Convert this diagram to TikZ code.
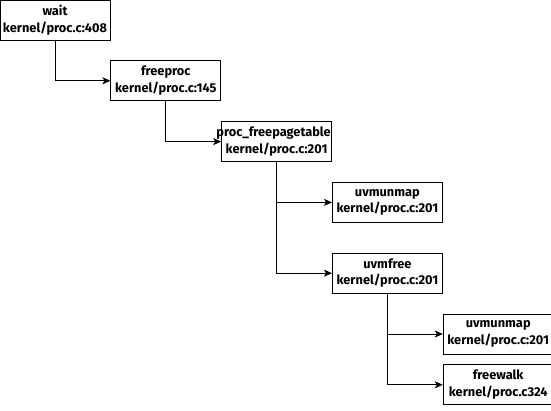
\documentclass[tikz,border=0pt]{standalone}
\usepackage{fontspec}
\setmainfont{Fira Sans}
\usetikzlibrary{arrows.meta, positioning}

\begin{document}
\begin{tikzpicture} [x=1pt, y=1pt, >={Stealth[length=8pt, width=7pt, inset=2pt]}, line width=0.8pt,
  fn/.style = {draw, rectangle, text width=110pt, minimum height=40pt, inner sep=0pt, align=center, font=\fontsize{12.8}{16.5}\selectfont\bfseries}]
\useasboundingbox (0,0) rectangle (551,-411);
\node[fn](wait) at (55,-20) {wait\\kernel/proc.c:408};
\node[fn, below right = 20pt and 0pt of wait](freeproc) {freeproc\\kernel/proc.c:145};
\node[fn, below right = 20pt and 0pt of freeproc](pft) {\hspace*{-6pt}proc\_freepagetable\hspace*{-6pt}\\kernel/proc.c:201};
\node[fn, below right = 20pt and 0pt of pft](unmap) {uvmunmap\\kernel/proc.c:201};
\node[fn, below = 30pt of unmap](uvmfree) {uvmfree\\kernel/proc.c:201};
\node[fn, below right = 20pt and 0pt of uvmfree](unmap2) {uvmunmap\\kernel/proc.c:201};
\node[fn, below = 10pt of unmap2](walk) {freewalk\\kernel/proc.c324};
\draw [->] (wait.south) |- (freeproc.west);
\draw [->] (freeproc.south) |- (pft.west);
\draw [->] (pft.south) |- (unmap.west);
\draw [->] (pft.south) |- (uvmfree.west);
\draw [->] (uvmfree.south) |- (unmap2.west);
\draw [->] (uvmfree.south) |- (walk.west);
\end{tikzpicture}
\end{document}
